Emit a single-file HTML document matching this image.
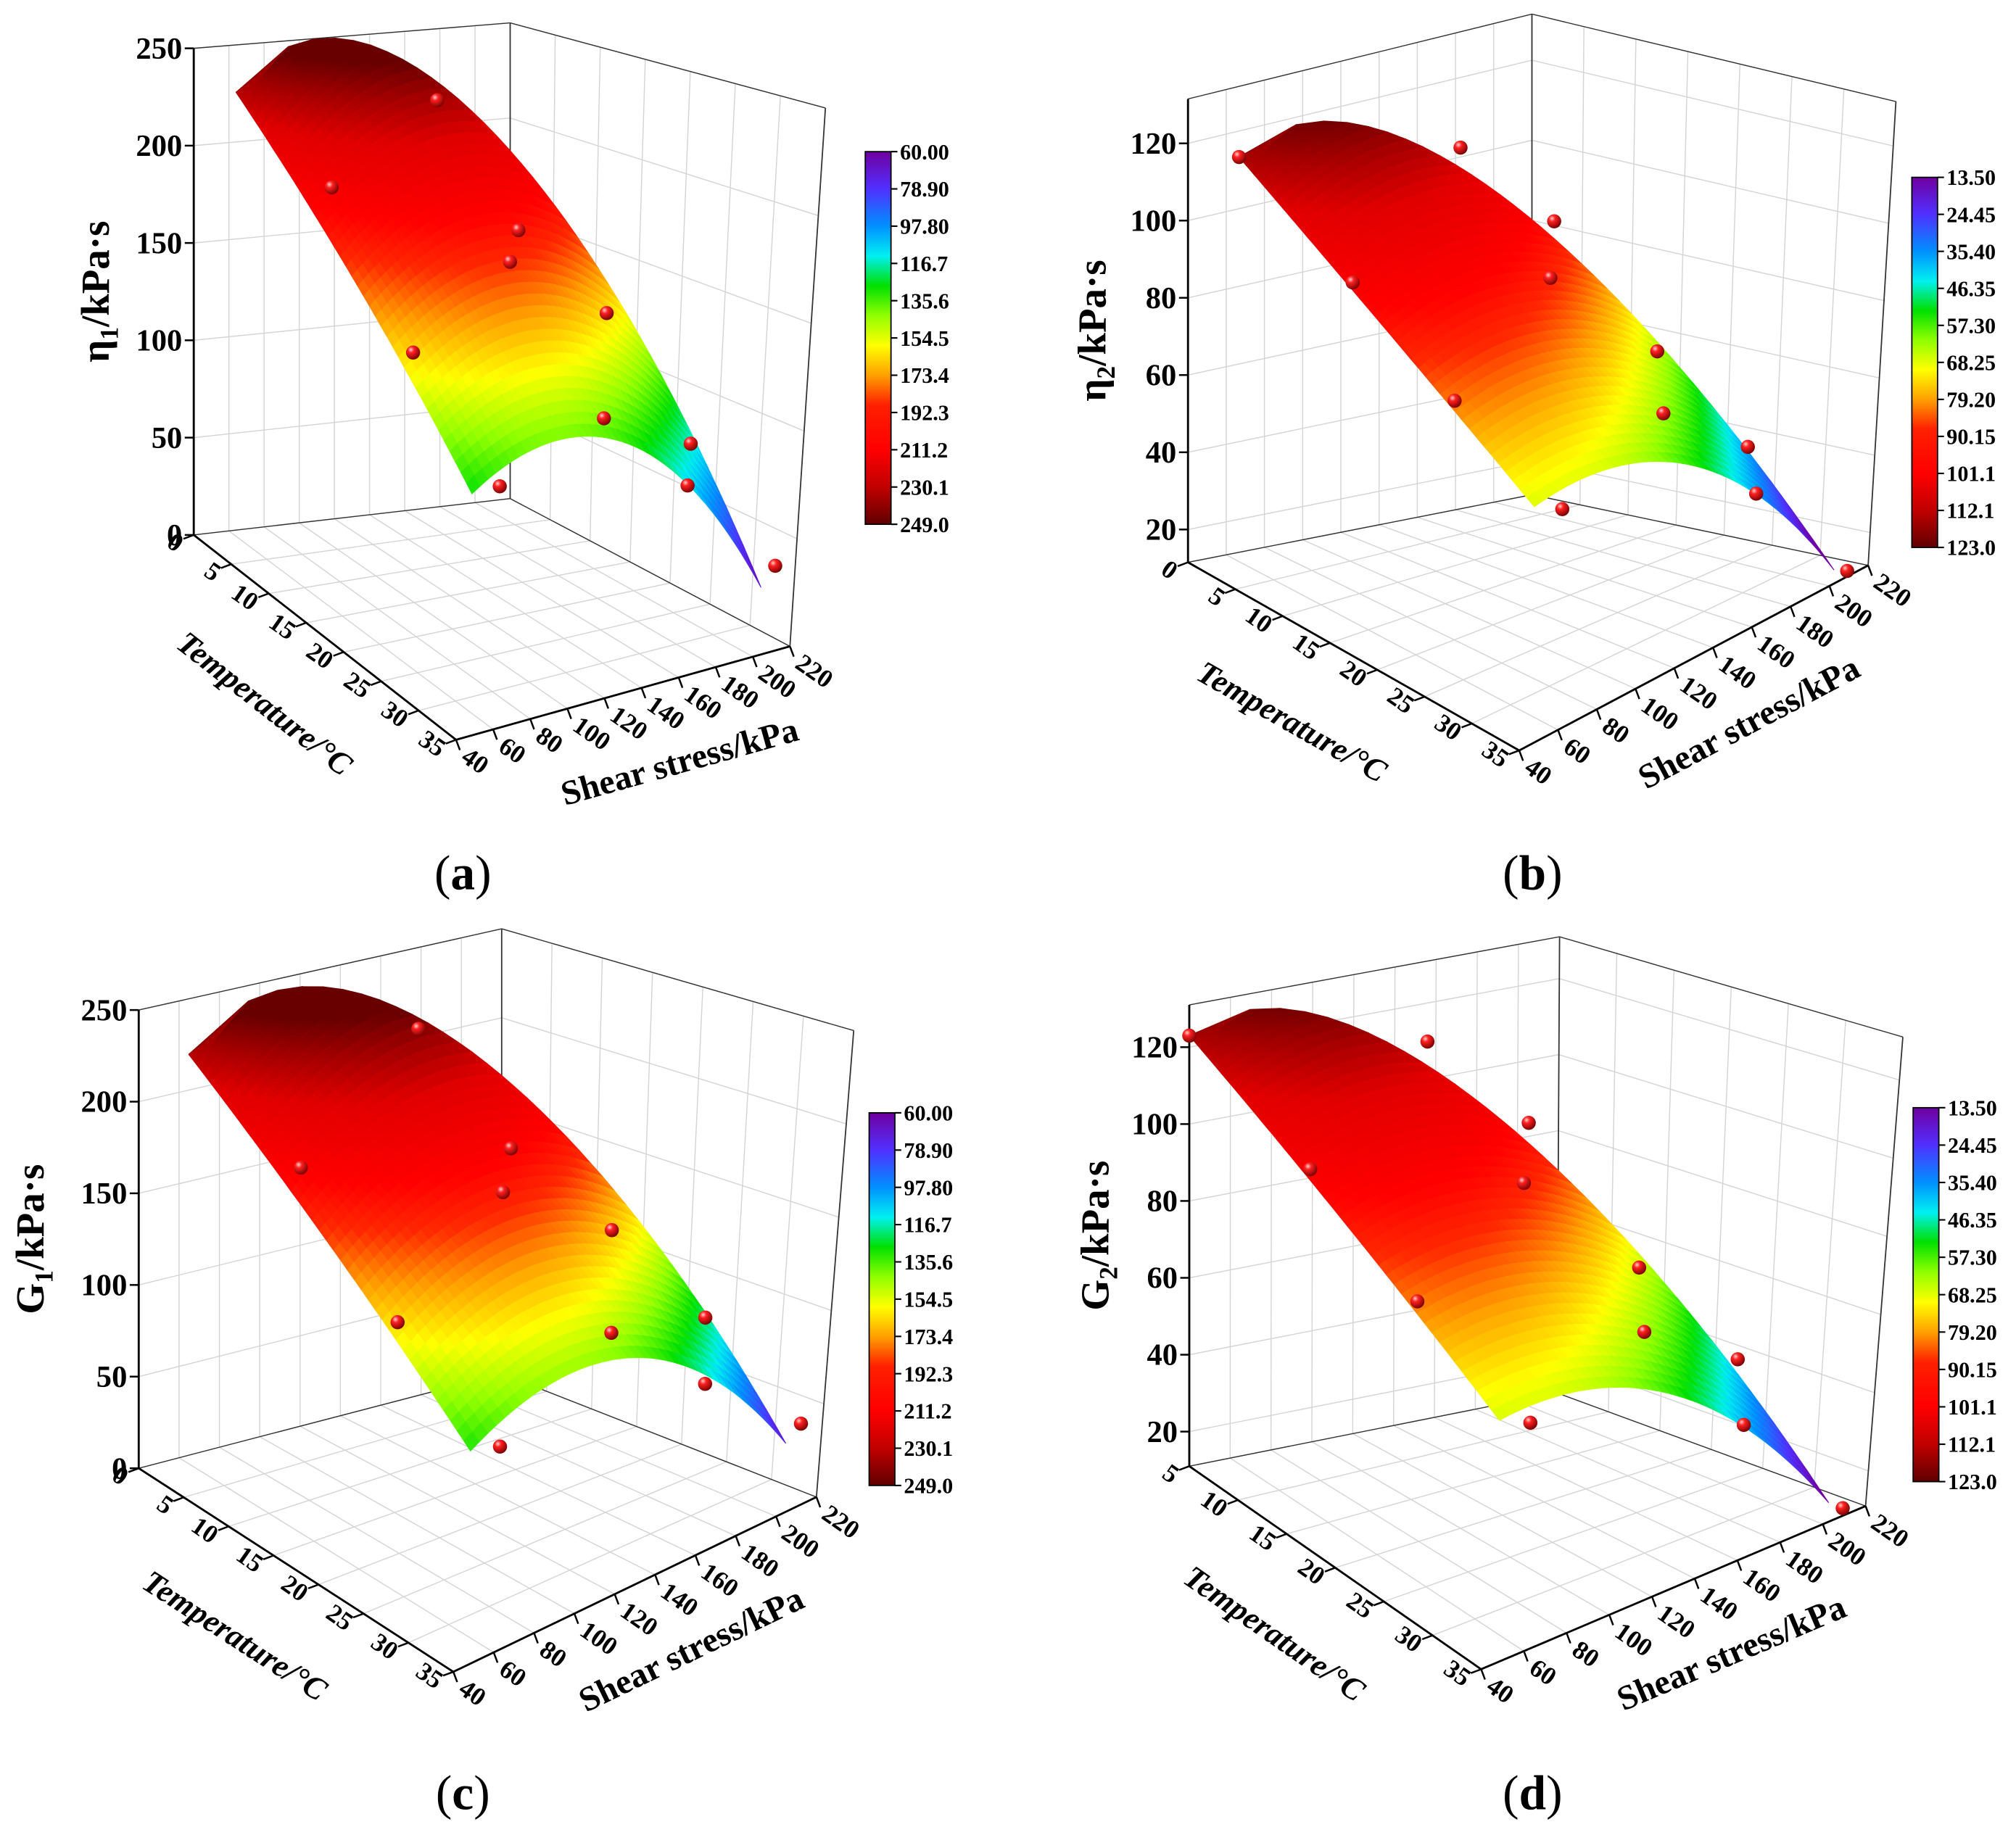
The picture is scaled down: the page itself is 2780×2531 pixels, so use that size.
<!DOCTYPE html>
<html><head><meta charset="utf-8"><style>
html,body{margin:0;padding:0;background:#fff;}
svg{display:block;font-family:"Liberation Serif",serif;}
</style></head><body>
<svg id="fig" xmlns="http://www.w3.org/2000/svg" width="2780" height="2531" viewBox="0 0 1568 1428" preserveAspectRatio="none">
<defs>
<radialGradient id="ball" cx="0.35" cy="0.3" r="0.75"><stop offset="0" stop-color="#ffd0d0"/><stop offset="0.3" stop-color="#ff2020"/><stop offset="1" stop-color="#700000"/></radialGradient>
<linearGradient id="cbar" x1="0" y1="0" x2="0" y2="1">
<stop offset="0" stop-color="#7000a0"/><stop offset="0.1" stop-color="#5030ff"/><stop offset="0.2" stop-color="#0090ff"/><stop offset="0.28" stop-color="#00f0f0"/><stop offset="0.36" stop-color="#00e000"/><stop offset="0.44" stop-color="#90ff00"/><stop offset="0.52" stop-color="#ffff00"/><stop offset="0.6" stop-color="#ffa000"/><stop offset="0.68" stop-color="#ff2000"/><stop offset="0.8" stop-color="#ff0000"/><stop offset="0.9" stop-color="#c00000"/><stop offset="1" stop-color="#600000"/>
</linearGradient>
</defs>
</svg>
<script>
// ---- data arrays ----
const tempTicks = [0,5,10,15,20,25,30,35];
const shearTicks = [40,60,80,100,120,140,160,180,200,220];
const zTicksA = [0,50,100,150,200,250];
const zTicksB = [20,40,60,80,100,120];
const cbLabelsA = ["60.00","78.90","97.80","116.7","135.6","154.5","173.4","192.3","211.2","230.1","249.0"];
const cbLabelsB = ["13.50","24.45","35.40","46.35","57.30","68.25","79.20","90.15","101.1","112.1","123.0"];
// measured points (temperature, shear stress, value)
const ptsA_T = [10,15,15,20,25,25,30,25,35,35,35];
const ptsA_S = [129,47,152,124,49,155,133,205,55,158,209];
const ptsA_Z = [234,211,175,173,153,152,116,80,112,89,40];
const ptsB_T = [5,10,15,15,20,25,25,30,25,35,35,35];
const ptsB_S = [40,129,47,152,124,49,155,133,205,55,158,209];
const ptsB_Z = [124,119,105,101,97,88,76,70,40,72,47,13];
const ptsC_T = [10,15,15,20,25,25,30,25,35,35,35];
const ptsC_S = [129,47,152,124,49,155,133,205,55,158,209];
const ptsC_Z = [240,205,178,176,150,154,120,85,110,92,45];
const ptsD_T = [5,10,15,15,20,25,25,30,25,35,35,35];
const ptsD_S = [40,129,47,152,124,49,155,133,205,55,158,209];
const ptsD_Z = [123,119,104,101,96,86,75,69,42,70,46,13];
// fitted surface coefficients [value at T5, value at T35 (S=40), S slope at T35, S curvature, S slope at T5]
const surfA = [238,112,0.6307,-0.006956,1.18];
const surfB = [124,77,0.086,-0.00289,0.35];
const surfC = [240,115,0.7053,-0.007288,1.255];
const surfD = [123,74,0.072,-0.002654,0.336];

const NS='http://www.w3.org/2000/svg';
const svg=document.getElementById('fig');
function el(tag,attrs,parent,txt){const e=document.createElementNS(NS,tag);for(const k in attrs)e.setAttribute(k,attrs[k]);if(txt!==undefined)e.textContent=txt;(parent||svg).appendChild(e);return e;}

const cstops=[[0,[112,0,160]],[0.1,[80,48,255]],[0.2,[0,144,255]],[0.28,[0,240,240]],[0.36,[0,224,0]],[0.44,[144,255,0]],[0.52,[255,255,0]],[0.6,[255,160,0]],[0.68,[255,40,0]],[0.75,[255,0,0]],[0.87,[225,0,0]],[0.94,[165,0,0]],[1,[105,0,0]]];
function cmap(f){f=Math.max(0,Math.min(1,f));for(let i=1;i<cstops.length;i++){if(f<=cstops[i][0]){const a=cstops[i-1],b=cstops[i];const t=(f-a[0])/(b[0]-a[0]);const c=a[1].map((v,j)=>Math.round(v+(b[1][j]-v)*t));return 'rgb('+c.join(',')+')';}}return 'rgb(105,0,0)';}

const panels=[
 {id:'a',O:[150.7,416.3],Ot:[150.7,37.6],F:[354.7,575.7],B:[396.8,388],Bt:[396.8,17.8],R:[614.4,503],Rt:[642,84],t0:0,zmin:0,zmax:250,zticks:zTicksA,surf:surfA,clo:30,chi:256,cb:[673,118,20,290],cbl:cbLabelsA,title:['η','1','/kPa·s'],toff:66,cap:[360,680],pT:ptsA_T,pS:ptsA_S,pZ:ptsA_Z},
 {id:'b',O:[924,437.6],Ot:[924,77],F:[1181.6,584],B:[1191.5,385],Bt:[1191.5,11],R:[1453,440],Rt:[1474.6,79],t0:0,zmin:11.5,zmax:131.5,zticks:zTicksB,surf:surfB,clo:24,chi:131,cb:[1487,138,20,288],cbl:cbLabelsB,title:['η','2','/kPa·s'],toff:64,cap:[1192,680],pT:ptsB_T,pS:ptsB_S,pZ:ptsB_Z},
 {id:'c',O:[107.9,1142.6],Ot:[107.9,786],F:[352.6,1301],B:[390.2,1069],Bt:[390.2,722.8],R:[635,1165],Rt:[664,802],t0:0,zmin:0,zmax:250,zticks:zTicksA,surf:surfC,clo:30,chi:258,cb:[676,866,20,290],cbl:cbLabelsA,title:['G','1','/kPa·s'],toff:74,cap:[360,1396],pT:ptsC_T,pS:ptsC_S,pZ:ptsC_Z},
 {id:'d',O:[925,1141],Ot:[925,782],F:[1152,1299],B:[1211,1084],Bt:[1213,729],R:[1451,1172],Rt:[1480,807],t0:5,zmin:11,zmax:131,zticks:zTicksB,surf:surfD,clo:20,chi:130,cb:[1488,862,20,291],cbl:cbLabelsB,title:['G','2','/kPa·s'],toff:63,cap:[1192,1396],pT:ptsD_T,pS:ptsD_S,pZ:ptsD_Z}
];

panels.forEach(p=>{
 const g=el('g',{});
 
 
 const hO=[p.Ot[0]-p.O[0],p.Ot[1]-p.O[1]], hB=[p.Bt[0]-p.B[0],p.Bt[1]-p.B[1]], hR=[p.Rt[0]-p.R[0],p.Rt[1]-p.R[1]];
 const hF=[hO[0]+hR[0]-hB[0],hO[1]+hR[1]-hB[1]];
 const bil=(a,f,b,r,u,v)=>[0,1].map(k=>(1-u)*(1-v)*a[k]+u*(1-v)*f[k]+(1-u)*v*b[k]+u*v*r[k]);
 const P=(T,S,Z)=>{const u=(T-p.t0)/(35-p.t0),v=(S-40)/180,w=(Z-p.zmin)/(p.zmax-p.zmin);
  const fl=bil(p.O,p.F,p.B,p.R,u,v),h=bil(hO,hF,hB,hR,u,v);return [fl[0]+w*h[0],fl[1]+w*h[1]];};
 const line=(a,b,st,w,par)=>el('line',{x1:a[0],y1:a[1],x2:b[0],y2:b[1],stroke:st,'stroke-width':w},par||g);
 const grid=el('g',{},g);
 
 
 const gc='#d4d4d4';
 const tt0=tempTicks.filter(t=>t>=p.t0);
 p.zticks.forEach(z=>line(P(p.t0,40,z),P(p.t0,220,z),gc,0.8,grid));
 shearTicks.forEach(s=>line(P(p.t0,s,p.zmin),P(p.t0,s,p.zmax),gc,0.8,grid));
 p.zticks.forEach(z=>line(P(p.t0,220,z),P(35,220,z),gc,0.8,grid));
 tt0.forEach(t=>line(P(t,220,p.zmin),P(t,220,p.zmax),gc,0.8,grid));
 tt0.forEach(t=>line(P(t,40,p.zmin),P(t,220,p.zmin),gc,0.8,grid));
 shearTicks.forEach(s=>line(P(p.t0,s,p.zmin),P(35,s,p.zmin),gc,0.8,grid));
 const fc='#333';
 line(P(p.t0,220,p.zmin),P(p.t0,220,p.zmax),fc,1,g);
 line(P(p.t0,40,p.zmax),P(p.t0,220,p.zmax),fc,0.8,g);
 line(P(p.t0,220,p.zmax),P(35,220,p.zmax),fc,0.8,g);
 line(P(35,220,p.zmin),P(35,220,p.zmax),fc,1,g);
 line(P(p.t0,40,p.zmin),P(p.t0,220,p.zmin),fc,0.8,g);
 line(P(p.t0,220,p.zmin),P(35,220,p.zmin),fc,0.8,g);
 const zax=line(P(p.t0,40,p.zmin),P(p.t0,40,p.zmax),'#000',1.6,g);
 
 const tax=line(P(p.t0,40,p.zmin),P(35,40,p.zmin),'#000',1.6,g);
 
 const sax=line(P(35,40,p.zmin),P(35,220,p.zmin),'#000',1.6,g);
 
 p.zticks.forEach(z=>{const a=P(p.t0,40,z);line(a,[a[0]-7,a[1]],'#000',1.4,g);
  const t=el('text',{x:a[0]-9,y:a[1]+8,'text-anchor':'end','font-size':24,'font-weight':'bold'},g,String(z));
  });
 tt0.forEach(tv=>{const a=P(tv,40,p.zmin);line(a,[a[0]-8,a[1]+3],'#000',1.4,g);
  const x=a[0]-14,y=a[1]+14;
  const t=el('text',{x:x,y:y,'text-anchor':'end','font-size':20,'font-weight':'bold',transform:'rotate(35 '+x+' '+y+')'},g,String(tv));
  });
 shearTicks.forEach(sv=>{const a=P(35,sv,p.zmin);line(a,[a[0]+3,a[1]+8],'#000',1.4,g);
  const x=a[0]+3,y=a[1]+16;
  const t=el('text',{x:x,y:y,'text-anchor':'start','font-size':20,'font-weight':'bold',transform:'rotate(35 '+x+' '+y+')'},g,String(sv));
  });
 const zm=P(p.t0,40,(p.zmin+p.zmax)*0.5);
 const zx=zm[0]-p.toff;
 const zt=el('text',{x:zx,y:zm[1],'text-anchor':'middle','font-size':31,'font-weight':'bold',transform:'rotate(-90 '+zx+' '+zm[1]+')'},g);
 
 el('tspan',{},zt,p.title[0]);el('tspan',{'font-size':20,dy:7},zt,p.title[1]);el('tspan',{dy:-7},zt,p.title[2]);
 const t1=P(p.t0,40,p.zmin),t2=P(35,40,p.zmin);const ta=Math.atan2(t2[1]-t1[1],t2[0]-t1[0])*180/Math.PI;
 const tm=P((p.t0+35)/2,40,p.zmin);const tx=tm[0]-52,ty=tm[1]+58;
 const ttl=el('text',{x:tx,y:ty,'text-anchor':'middle','font-size':25,'font-weight':'bold','font-style':'italic',transform:'rotate('+ta+' '+tx+' '+ty+')'},g,'Temperature/°C');
 
 const s1=P(35,40,p.zmin),s2=P(35,220,p.zmin);const sa=Math.atan2(s2[1]-s1[1],s2[0]-s1[0])*180/Math.PI;
 const sm=P(35,140,p.zmin);const sx=sm[0]+32,sy=sm[1]+66;
 const stl=el('text',{x:sx,y:sy,'text-anchor':'middle','font-size':27,'font-weight':'bold',transform:'rotate('+sa+' '+sx+' '+sy+')'},g,'Shear stress/kPa');
 
 // surface
 const surf=el('g',{},g);
 
 
 const c=p.surf;
 const Zf=(T,S)=>{const q=(T-5)/30,d=S-40;const a=c[4]+(c[2]-c[4])*q;return c[0]-(c[0]-c[1])*q+a*d+c[3]*d*d;};
 const N=40,M=40;
 const val=(u,v)=>{const T=5+30*u;const S=40+162*Math.sqrt(u)*v;return [T,S,Zf(T,S)];};
 const quads=[];
 for(let i=0;i<N;i++)for(let j=0;j<M;j++){
  const cc=[val(i/N,j/M),val((i+1)/N,j/M),val((i+1)/N,(j+1)/M),val(i/N,(j+1)/M)];
  const Tm=(cc[0][0]+cc[2][0])/2,Sm=(cc[0][1]+cc[2][1])/2,Zm=(cc[0][2]+cc[1][2]+cc[2][2]+cc[3][2])/4;
  quads.push({cc,d:Tm/35-(Sm-40)/180,z:Zm});
 }
 quads.sort((a,b)=>a.d-b.d);
 quads.forEach(q=>{const pts=q.cc.map(k=>{const pp=P(k[0],k[1],Math.max(k[2],p.zmin));return pp[0].toFixed(1)+','+pp[1].toFixed(1);}).join(' ');
  const col=cmap((q.z-p.clo)/(p.chi-p.clo));
  el('polygon',{points:pts,fill:col,stroke:col,'stroke-width':0.6},surf);});
 const pg=el('g',{},g);
 
 
 p.pT.forEach((T,i)=>{const a=P(T,p.pS[i],p.pZ[i]);
  const ci=el('circle',{cx:a[0],cy:a[1],r:5.5,fill:'url(#ball)'},pg);
  });
 const cb=p.cb;
 const r=el('rect',{x:cb[0],y:cb[1],width:cb[2],height:cb[3],fill:'url(#cbar)',stroke:'#000','stroke-width':1},g);
 
 p.cbl.forEach((l,i)=>{const y=cb[1]+cb[3]*i/(p.cbl.length-1);
  line([cb[0]+cb[2],y],[cb[0]+cb[2]+5,y],'#000',1.2,g);
  const t=el('text',{x:cb[0]+cb[2]+7,y:y+6,'font-size':17,'font-weight':'bold'},g,l);
  });
 const cap=el('text',{x:p.cap[0],y:p.cap[1]+12,'text-anchor':'middle','font-size':38},g);
 
 el('tspan',{},cap,'(');el('tspan',{'font-weight':'bold'},cap,p.id);el('tspan',{},cap,')');
});
</script>
</body></html>
